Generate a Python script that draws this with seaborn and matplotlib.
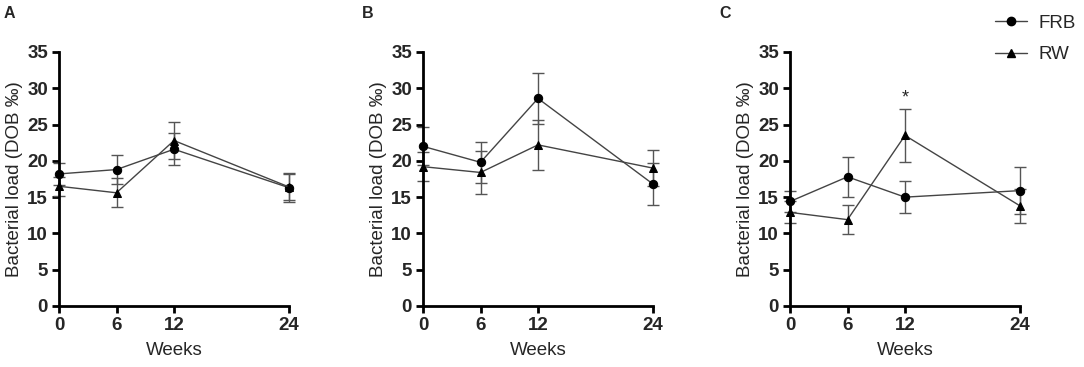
import matplotlib
matplotlib.use('Agg')
import matplotlib.pyplot as plt
from matplotlib.lines import Line2D
import seaborn as sns
import pandas as pd

# data (mean and error bar half-length)
weeks = [0, 6, 12, 24]
panels = ['A', 'B', 'C']

frb_mean = {'A': [18.2, 18.8, 21.6, 16.3], 'B': [22.0, 19.8, 28.6, 16.8], 'C': [14.4, 17.8, 15.0, 15.9]}
frb_err = {'A': [1.5, 2.0, 2.2, 2.0], 'B': [2.6, 2.8, 3.5, 2.9], 'C': [1.5, 2.8, 2.2, 3.2]}
rw_mean = {'A': [16.5, 15.6, 22.8, 16.4], 'B': [19.2, 18.4, 22.2, 19.0], 'C': [12.9, 11.9, 23.5, 13.8]}
rw_err = {'A': [1.3, 2.0, 2.5, 1.8], 'B': [2.0, 3.0, 3.4, 2.5], 'C': [1.5, 2.0, 3.7, 2.3]}
star_panel = 'C'
star_week = 12
star_y = 28.6

sns.set_theme(style="ticks")
plt.rcParams['font.family'] = ['Liberation Sans', 'DejaVu Sans']

fig = plt.figure(figsize=(10.84, 3.67), dpi=100)
lefts = [59 / 1084, 423 / 1084, 790 / 1084]
label_x = [4 / 1084, 362 / 1084, 719 / 1084]
bottom = (367 - 306) / 367
height = (306 - 52) / 367
width = 230 / 1084

line_col = '#444444'
err_col = '#555555'

for i, p in enumerate(panels):
    ax = fig.add_axes([lefts[i], bottom, width, height])
    df = pd.DataFrame({
        'Weeks': weeks * 2,
        'load': frb_mean[p] + rw_mean[p],
        'group': ['FRB'] * 4 + ['RW'] * 4,
    })
    for m, e in [(frb_mean[p], frb_err[p]), (rw_mean[p], rw_err[p])]:
        ax.errorbar(weeks, m, yerr=e, fmt='none', ecolor=err_col, elinewidth=1,
                    capsize=4, capthick=1, zorder=2, clip_on=False)
    sns.lineplot(data=df, x='Weeks', y='load', hue='group', style='group',
                 markers={'FRB': 'o', 'RW': '^'}, dashes=False,
                 palette={'FRB': line_col, 'RW': line_col}, linewidth=1,
                 markersize=6, markerfacecolor='black', markeredgecolor='black',
                 legend=False, ax=ax, zorder=3, clip_on=False)
    ax.set_xlim(0, 24)
    ax.set_ylim(0, 35)
    ax.set_xticks(weeks)
    ax.set_yticks(range(0, 36, 5))
    ax.set_xlabel('Weeks', fontsize=13.5, labelpad=6)
    ax.set_ylabel('Bacterial load (DOB ‰)', fontsize=13.5, labelpad=3)
    sns.despine(ax=ax)
    ax.tick_params(axis='both', width=2, length=5, pad=3, color='black', labelsize=13.5)
    for lab in ax.get_xticklabels() + ax.get_yticklabels():
        lab.set_fontweight('bold')
    for s in ['left', 'bottom']:
        ax.spines[s].set_linewidth(2)
        ax.spines[s].set_color('black')
    if p == star_panel:
        ax.text(star_week, star_y, '*', ha='center', va='center', fontsize=13)
    fig.text(label_x[i], 1 - 13 / 367, p, fontsize=11.5, fontweight='bold', va='center', ha='left')

handles = [
    Line2D([], [], color=line_col, lw=1, marker='o', markersize=6,
           markerfacecolor='black', markeredgecolor='black'),
    Line2D([], [], color=line_col, lw=1, marker='^', markersize=6,
           markerfacecolor='black', markeredgecolor='black'),
]
fig.legend(handles, ['FRB', 'RW'], loc='upper left', bbox_to_anchor=(978 / 1084, 1 + 2 / 367),
           frameon=False, fontsize=13.5, handlelength=1.7, labelspacing=0.75, handletextpad=0.6)

fig.savefig('out.png', dpi=100)
